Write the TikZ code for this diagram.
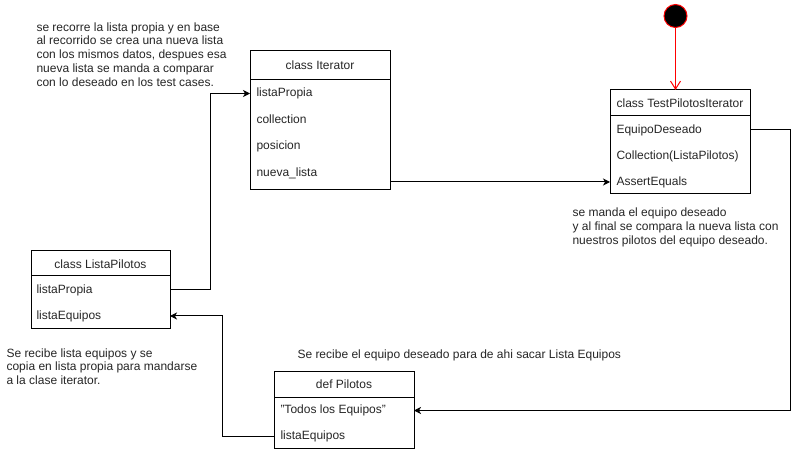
\documentclass[tikz,border=0pt]{standalone}
\usepackage{fontspec}
\setmainfont{Liberation Sans}
\usetikzlibrary{arrows.meta}
\begin{document}
\begin{tikzpicture}[x=1bp,y=-1bp,line width=1bp,
  font=\fontsize{12bp}{14bp}\selectfont,
  classbox/.style={draw,anchor=north west,inner sep=0,outer sep=0},
  hdr/.style={inner sep=0,text=black!85},
  rowtxt/.style={anchor=west,inner sep=0,text=black!85},
  note/.style={anchor=north west,align=left,inner sep=0,text=black!85,font=\fontsize{12bp}{13.8bp}\selectfont},
  conn/.style={draw,-{Stealth[length=7bp,width=7bp,inset=2bp]}},
  startarrow/.style={draw=red,-{Straight Barb[length=8bp,width=10bp]}}]
\useasboundingbox (0,0) rectangle (799,452);
\fill[white] (0,0) rectangle (799,452);

% class Iterator
\node[classbox,minimum width=140bp,minimum height=139bp] (it) at (250,51) {};
\draw ([yshift=-29bp]it.north west) -- ([yshift=-29bp]it.north east);
\node[hdr] (ith) at (320,65.5) {class Iterator};
\node[rowtxt] (it1) at (256,93.5) {listaPropia};
\node[rowtxt] (it2) at (256,119.5) {collection};
\node[rowtxt] (it3) at (256,146.5) {posicion};
\node[rowtxt] (it4) at (256,173) {nueva\_lista};

% class TestPilotosIterator
\node[classbox,minimum width=140bp,minimum height=104bp] (tp) at (610,90) {};
\draw ([yshift=-26bp]tp.north west) -- ([yshift=-26bp]tp.north east);
\node[hdr] (tph) at (680,103.5) {class TestPilotosIterator};
\node[rowtxt] (tp1) at (616,130) {EquipoDeseado};
\node[rowtxt] (tp2) at (616,156) {Collection(ListaPilotos)};
\node[rowtxt] (tp3) at (616,182) {AssertEquals};

% class ListaPilotos
\node[classbox,minimum width=139bp,minimum height=77bp] (lp) at (31,251) {};
\draw ([yshift=-25bp]lp.north west) -- ([yshift=-25bp]lp.north east);
\node[hdr] (lph) at (100.5,264) {class ListaPilotos};
\node[rowtxt] (lp1) at (36,290) {listaPropia};
\node[rowtxt] (lp2) at (36,316) {listaEquipos};

% def Pilotos
\node[classbox,minimum width=140bp,minimum height=77bp] (dp) at (274,371) {};
\draw ([yshift=-26bp]dp.north west) -- ([yshift=-26bp]dp.north east);
\node[hdr] (dph) at (344,384.5) {def Pilotos};
\node[rowtxt] (dp1) at (280,410.5) {"Todos los Equipos"};
\node[rowtxt] (dp2) at (280,436) {listaEquipos};

% start state
\node[circle,fill=black,draw=red,minimum size=23bp,inner sep=0] (st) at (675.5,16) {};

% notes
\node[note] (n1) at (36,22) {se recorre la lista propia y en base\\al recorrido se crea una nueva lista\\con los mismos datos, despues esa\\nueva lista se manda a comparar\\con lo deseado en los test cases.};
\node[note] (n2) at (572,207.5) {se manda el equipo deseado\\y al final se compara la nueva lista con\\nuestros pilotos del equipo deseado.};
\node[note] (n3) at (6,348) {Se recibe lista equipos y se\\copia en lista propia para mandarse\\a la clase iterator.};
\node[note] (n4) at (297,349) {Se recibe el equipo deseado para de ahi sacar Lista Equipos};

% connectors
\draw[startarrow] (st.south) -- (tp.north -| st.south);
\draw[conn] (lp.east |- lp1) -- ++(40.7,0) |- (it.west |- it1);
\draw[conn] (it.east |- tp3) -- (tp.west |- tp3);
\draw[conn] (tp.east |- tp1) -- ++(40.5,0) |- (dp.east |- dp1);
\draw[conn] (dp.west |- dp2) -- ++(-51.5,0) |- (lp.east |- lp2);
\end{tikzpicture}
\end{document}
